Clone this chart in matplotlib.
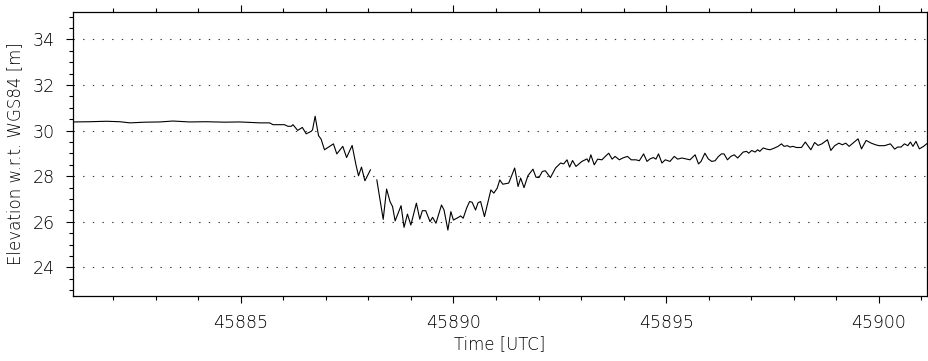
import matplotlib
matplotlib.use('Agg')
import matplotlib.pyplot as plt
from matplotlib.ticker import MultipleLocator
import numpy as np

plt.rcParams['font.family'] = ['DejaVu Sans']
plt.rcParams['font.weight'] = 'light'
plt.rcParams['axes.labelweight'] = 'light'

# 时间 (UTC 秒) 与高程 (m)，中间有一段缺测，用 nan 断开
time = [
    45881.06, 45881.46, 45881.84, 45882.16, 45882.40, 45882.75, 45883.10, 45883.41,
    45883.80, 45884.18, 45884.63, 45884.98, 45885.33, 45885.45, 45885.68, 45885.76,
    45886.03, 45886.11, 45886.19, 45886.23, 45886.34, 45886.45, 45886.54, 45886.66,
    45886.69, 45886.75, 45886.83, 45886.89, 45886.97, 45887.09, 45887.18, 45887.26,
    45887.40, 45887.49, 45887.62, 45887.71, 45887.77, 45887.84, 45887.92, 45888.05,
    45888.12,
    45888.20, 45888.35, 45888.43, 45888.51, 45888.57, 45888.63, 45888.77, 45888.84,
    45888.92, 45889.00, 45889.13, 45889.21, 45889.27, 45889.35, 45889.45, 45889.51,
    45889.59, 45889.72, 45889.78, 45889.87, 45889.94, 45890.00, 45890.12, 45890.17,
    45890.23, 45890.31, 45890.38, 45890.44, 45890.52, 45890.58, 45890.64, 45890.73,
    45890.88, 45890.95, 45891.03, 45891.09, 45891.16, 45891.30, 45891.44, 45891.52,
    45891.58, 45891.66, 45891.75, 45891.87, 45891.94, 45892.01, 45892.09, 45892.16,
    45892.28, 45892.40, 45892.52, 45892.59, 45892.67, 45892.73, 45892.80, 45892.88,
    45893.02, 45893.14, 45893.18, 45893.23, 45893.31, 45893.39, 45893.49, 45893.57,
    45893.65, 45893.73, 45893.80, 45893.90, 45893.98, 45894.09, 45894.18, 45894.29,
    45894.37, 45894.47, 45894.55, 45894.62, 45894.70, 45894.76, 45894.82, 45894.90,
    45894.98, 45895.09, 45895.19, 45895.27, 45895.37, 45895.47, 45895.56, 45895.68,
    45895.76, 45895.82, 45895.91, 45895.99, 45896.07, 45896.15, 45896.23, 45896.30,
    45896.36, 45896.44, 45896.52, 45896.60, 45896.68, 45896.81, 45896.89, 45896.94,
    45897.01, 45897.09, 45897.15, 45897.20, 45897.28, 45897.36, 45897.44, 45897.55,
    45897.63, 45897.71, 45897.77, 45897.85, 45897.91, 45897.98, 45898.06, 45898.18,
    45898.27, 45898.40, 45898.49, 45898.57, 45898.66, 45898.79, 45898.87, 45898.96,
    45899.06, 45899.14, 45899.22, 45899.30, 45899.39, 45899.51, 45899.59, 45899.70,
    45899.82, 45899.92, 45900.00, 45900.13, 45900.27, 45900.37, 45900.44, 45900.52,
    45900.60, 45900.68, 45900.74, 45900.80, 45900.87, 45900.95, 45901.05, 45901.12,
]
elevation = [
    30.38, 30.39, 30.41, 30.39, 30.34, 30.37, 30.38, 30.42,
    30.38, 30.39, 30.37, 30.38, 30.35, 30.34, 30.34, 30.26,
    30.26, 30.19, 30.19, 30.26, 30.01, 30.14, 29.86, 29.97,
    30.04, 30.63, 29.78, 29.63, 29.16, 29.31, 29.42, 28.98,
    29.31, 28.82, 29.35, 28.50, 28.02, 28.40, 27.80, 28.28,
    np.nan,
    27.84, 26.11, 27.44, 26.89, 26.67, 26.04, 26.71, 25.76,
    26.34, 25.86, 26.82, 26.12, 26.49, 26.49, 26.01, 26.20,
    25.94, 26.74, 26.52, 25.64, 26.45, 26.08, 26.20, 26.26,
    26.16, 26.60, 26.89, 26.86, 26.52, 26.84, 26.89, 26.23,
    27.40, 27.26, 27.48, 27.84, 27.65, 27.70, 28.36, 27.55,
    27.92, 27.50, 28.02, 28.31, 27.96, 27.94, 28.21, 28.24,
    27.94, 28.36, 28.58, 28.54, 28.72, 28.40, 28.69, 28.43,
    28.65, 28.76, 28.62, 28.94, 28.50, 28.75, 28.72, 28.87,
    29.01, 28.75, 28.87, 28.72, 28.80, 28.87, 28.72, 28.72,
    28.68, 28.98, 28.65, 28.76, 28.82, 28.75, 28.98, 28.58,
    28.72, 28.65, 28.87, 28.75, 28.80, 28.76, 28.72, 28.94,
    28.54, 28.65, 29.01, 28.76, 28.65, 28.68, 28.87, 28.98,
    28.98, 28.72, 28.87, 28.94, 28.80, 29.06, 29.09, 29.01,
    29.13, 29.06, 29.16, 29.09, 29.24, 29.19, 29.16, 29.24,
    29.31, 29.42, 29.31, 29.34, 29.28, 29.31, 29.26, 29.26,
    29.50, 29.16, 29.48, 29.35, 29.42, 29.60, 29.13, 29.34,
    29.45, 29.38, 29.45, 29.31, 29.45, 29.64, 29.20, 29.57,
    29.45, 29.38, 29.34, 29.34, 29.42, 29.19, 29.28, 29.28,
    29.42, 29.34, 29.50, 29.31, 29.53, 29.20, 29.31, 29.42,
]

y_grid = [24, 26, 28, 30, 32, 34]

fig = plt.figure(figsize=(9.29, 3.61), dpi=100)
ax = fig.add_axes([73 / 929, 65 / 361, 854 / 929, 284 / 361])

# 虚点网格线
for yv in y_grid:
    ax.axhline(yv, color='#333333', lw=0.8, linestyle=(0, (1.2, 7.5)), zorder=1)

ax.plot(time, elevation, color='black', lw=0.8, zorder=2)

ax.set_xlim(45881.06, 45901.13)
ax.set_ylim(22.75, 35.2)
ax.xaxis.set_major_locator(MultipleLocator(5))
ax.xaxis.set_minor_locator(MultipleLocator(1))
ax.yaxis.set_major_locator(MultipleLocator(2))
ax.yaxis.set_minor_locator(MultipleLocator(0.5))
ax.ticklabel_format(useOffset=False, style='plain')

ax.tick_params(which='both', direction='out', top=True, right=False,
               labelsize=12.5, width=0.8, pad=8)
ax.tick_params(which='major', length=5)
ax.tick_params(which='minor', length=3)
for s in ax.spines.values():
    s.set_linewidth(0.9)

ax.set_xlabel('Time [UTC]', fontsize=12, labelpad=2)
ax.set_ylabel('Elevation w.r.t. WGS84 [m]', fontsize=12, labelpad=6)

fig.savefig('out.png', dpi=100)
